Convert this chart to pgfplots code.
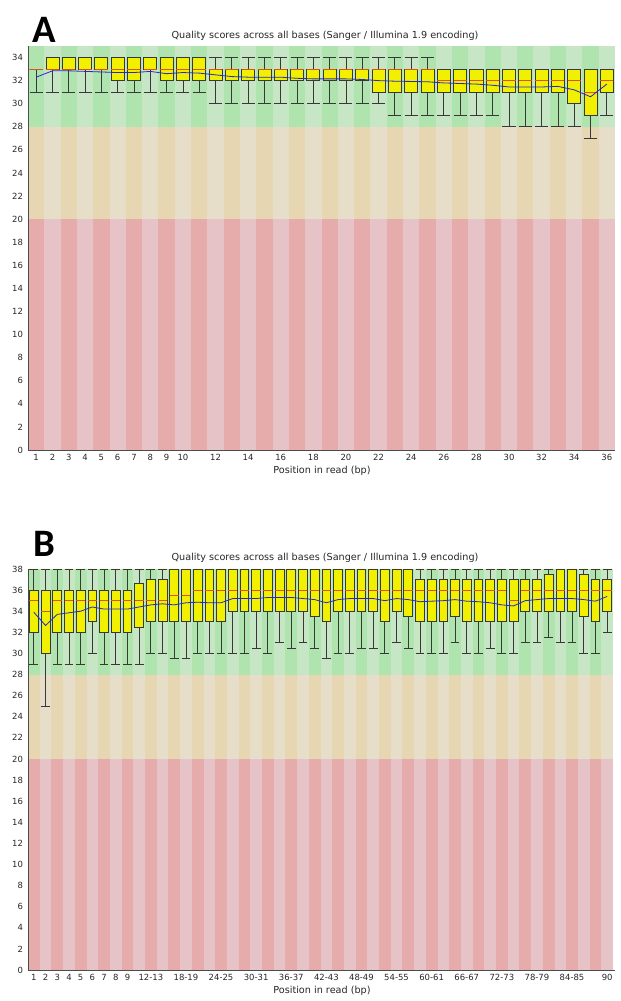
\documentclass[border=0pt]{standalone}
\usepackage{fontspec}
\setmainfont{DejaVu Sans}
\newfontfamily\labfont{Carlito}
\usepackage{pgfplots}
\pgfplotsset{compat=1.18}
\usepgfplotslibrary{statistics}
\definecolor{gd}{RGB}{175,228,175}
\definecolor{gl}{RGB}{198,230,198}
\definecolor{bd}{RGB}{230,214,178}
\definecolor{bl}{RGB}{230,222,200}
\definecolor{ud}{RGB}{230,172,172}
\definecolor{ul}{RGB}{230,195,198}
\definecolor{boxy}{RGB}{240,240,0}
\definecolor{medred}{RGB}{228,80,20}
\definecolor{meanblue}{RGB}{40,40,205}
\newcommand{\bx}[6]{\addplot[draw=black!78, fill=boxy, line width=0.8bp, solid, mark=none,
  boxplot prepared={draw direction=y, draw position=#1, lower whisker=#2, lower quartile=#3, median=#4, upper quartile=#5, upper whisker=#6}] coordinates {};}
\pgfplotsset{qa/.style={scale only axis, axis on top, clip=false,
  axis x line*=bottom, axis y line*=left,
  axis line style={black!70, line width=0.8bp},
  major tick length=0pt,
  tick label style={font=\fontsize{8.5}{10}\selectfont, text=black!85},
  /pgf/number format/assume math mode=true,
  yticklabel style={xshift=-1.5bp},
  xticklabel style={yshift=-1bp},
  boxplot/draw direction=y,
  boxplot/every median/.style={draw=medred, line width=1bp},
}}
\begin{document}
\begin{tikzpicture}
\path[use as bounding box] (0,0) rectangle (621bp,1001bp);
% ---------------- Panel A
\begin{axis}[qa, at={(28bp,551bp)}, anchor=south west, width=587bp, height=404bp,
  xmin=0.5, xmax=36.5, ymin=0, ymax=35,
  xtick={1,2,...,10,12,14,...,36}, ytick={0,2,...,34},
  boxplot/box extend=0.8, boxplot/whisker extend=0.8]
\pgfplotsinvokeforeach{1,3,...,35}{
  \fill[gd] (axis cs:{#1-0.5},28) rectangle (axis cs:{#1+0.5},35);
  \fill[bd] (axis cs:{#1-0.5},20) rectangle (axis cs:{#1+0.5},28);
  \fill[ud] (axis cs:{#1-0.5},0) rectangle (axis cs:{#1+0.5},20);
}
\pgfplotsinvokeforeach{2,4,...,36}{
  \fill[gl] (axis cs:{#1-0.5},28) rectangle (axis cs:{#1+0.5},35);
  \fill[bl] (axis cs:{#1-0.5},20) rectangle (axis cs:{#1+0.5},28);
  \fill[ul] (axis cs:{#1-0.5},0) rectangle (axis cs:{#1+0.5},20);
}
\draw[black!70, line width=0.8bp] (axis cs:36.5,0) -- ++(7bp,0);
\bx{1}{31}{33}{33}{33}{33}
\bx{2}{31}{33}{33}{34}{34}
\bx{3}{31}{33}{33}{34}{34}
\bx{4}{31}{33}{33}{34}{34}
\bx{5}{31}{33}{33}{34}{34}
\bx{6}{31}{32}{33}{34}{34}
\bx{7}{31}{32}{33}{34}{34}
\bx{8}{31}{33}{33}{34}{34}
\bx{9}{31}{32}{33}{34}{34}
\bx{10}{31}{32}{33}{34}{34}
\bx{11}{31}{32}{33}{34}{34}
\bx{12}{30}{32}{33}{33}{34}
\bx{13}{30}{32}{33}{33}{34}
\bx{14}{30}{32}{33}{33}{34}
\bx{15}{30}{32}{33}{33}{34}
\bx{16}{30}{32}{33}{33}{34}
\bx{17}{30}{32}{33}{33}{34}
\bx{18}{30}{32}{33}{33}{34}
\bx{19}{30}{32}{33}{33}{34}
\bx{20}{30}{32}{33}{33}{34}
\bx{21}{30}{32}{33}{33}{34}
\bx{22}{30}{31}{33}{33}{34}
\bx{23}{29}{31}{33}{33}{34}
\bx{24}{29}{31}{33}{33}{34}
\bx{25}{29}{31}{33}{33}{34}
\bx{26}{29}{31}{32}{33}{33}
\bx{27}{29}{31}{32}{33}{33}
\bx{28}{29}{31}{32}{33}{33}
\bx{29}{29}{31}{32}{33}{33}
\bx{30}{28}{31}{32}{33}{33}
\bx{31}{28}{31}{32}{33}{33}
\bx{32}{28}{31}{32}{33}{33}
\bx{33}{28}{31}{32}{33}{33}
\bx{34}{28}{30}{32}{33}{33}
\bx{35}{27}{29}{31}{33}{33}
\bx{36}{29}{31}{32}{33}{33}
\addplot[meanblue, line width=0.8bp, mark=none] coordinates {
(1,32.3)(2,32.85)(3,32.85)(4,32.8)(5,32.75)(6,32.7)(7,32.7)(8,32.8)(9,32.6)(10,32.7)
(11,32.65)(12,32.5)(13,32.35)(14,32.3)(15,32.3)(16,32.3)(17,32.2)(18,32.15)(19,32.15)(20,32.15)
(21,32.1)(22,32.0)(23,31.95)(24,31.93)(25,31.9)(26,31.8)(27,31.75)(28,31.7)(29,31.6)(30,31.45)
(31,31.45)(32,31.45)(33,31.5)(34,31.2)(35,30.6)(36,31.7)};
\end{axis}
% ---------------- Panel B
\begin{axis}[qa, at={(28bp,31bp)}, anchor=south west, width=585bp, height=401bp,
  xmin=0.5, xmax=50.5, ymin=0, ymax=38,
  xtick={1,2,...,9,11,14,...,47,50},
  xticklabels={1,2,3,4,5,6,7,8,9,12-13,18-19,24-25,30-31,36-37,42-43,48-49,54-55,60-61,66-67,72-73,78-79,84-85,90},
  ytick={0,2,...,38},
  boxplot/box extend=0.75, boxplot/whisker extend=0.75]
\pgfplotsinvokeforeach{1,3,...,49}{
  \fill[gd] (axis cs:{#1-0.5},28) rectangle (axis cs:{#1+0.5},38);
  \fill[bd] (axis cs:{#1-0.5},20) rectangle (axis cs:{#1+0.5},28);
  \fill[ud] (axis cs:{#1-0.5},0) rectangle (axis cs:{#1+0.5},20);
}
\pgfplotsinvokeforeach{2,4,...,50}{
  \fill[gl] (axis cs:{#1-0.5},28) rectangle (axis cs:{#1+0.5},38);
  \fill[bl] (axis cs:{#1-0.5},20) rectangle (axis cs:{#1+0.5},28);
  \fill[ul] (axis cs:{#1-0.5},0) rectangle (axis cs:{#1+0.5},20);
}
\draw[black!70, line width=0.8bp] (axis cs:50.5,0) -- ++(8bp,0);
\bx{1}{29}{32}{35}{36}{38}
\bx{2}{25}{30}{34}{36}{38}
\bx{3}{29}{32}{35}{36}{38}
\bx{4}{29}{32}{35}{36}{38}
\bx{5}{29}{32}{35}{36}{38}
\bx{6}{30}{33}{35}{36}{38}
\bx{7}{29}{32}{35}{36}{38}
\bx{8}{29}{32}{35}{36}{38}
\bx{9}{29}{32}{35}{36}{38}
\bx{10}{29}{32.5}{35}{36.6}{38}
\bx{11}{30}{33}{35}{37}{38}
\bx{12}{30}{33}{35}{37}{38}
\bx{13}{29.5}{33}{35.5}{38}{38}
\bx{14}{29.5}{33}{35.5}{38}{38}
\bx{15}{30}{33}{36}{38}{38}
\bx{16}{30}{33}{36}{38}{38}
\bx{17}{30}{33}{36}{38}{38}
\bx{18}{30}{34}{36}{38}{38}
\bx{19}{30}{34}{36}{38}{38}
\bx{20}{30.5}{34}{36}{38}{38}
\bx{21}{30}{34}{36}{38}{38}
\bx{22}{31}{34}{36}{38}{38}
\bx{23}{30.5}{34}{36}{38}{38}
\bx{24}{31}{34}{36}{38}{38}
\bx{25}{30.5}{33.5}{36}{38}{38}
\bx{26}{29.5}{33}{36}{38}{38}
\bx{27}{30}{34}{36}{38}{38}
\bx{28}{30}{34}{36}{38}{38}
\bx{29}{30.5}{34}{36}{38}{38}
\bx{30}{30.5}{34}{36}{38}{38}
\bx{31}{30}{33}{36}{38}{38}
\bx{32}{31}{34}{36}{38}{38}
\bx{33}{30.5}{33.5}{36}{38}{38}
\bx{34}{30}{33}{36}{37}{38}
\bx{35}{30}{33}{36}{37}{38}
\bx{36}{30}{33}{36}{37}{38}
\bx{37}{31}{33.5}{36}{37}{38}
\bx{38}{30}{33}{36}{37}{38}
\bx{39}{30}{33}{36}{37}{38}
\bx{40}{30.5}{33}{36}{37}{38}
\bx{41}{30}{33}{36}{37}{38}
\bx{42}{30}{33}{35}{37}{38}
\bx{43}{31}{34}{36}{37}{38}
\bx{44}{31}{34}{36}{37}{38}
\bx{45}{31.5}{34}{36}{37.5}{38}
\bx{46}{31}{34}{36}{38}{38}
\bx{47}{31}{34}{36}{38}{38}
\bx{48}{30}{33.5}{36}{37.5}{38}
\bx{49}{30}{33}{36}{37}{38}
\bx{50}{32}{34}{36}{37}{38}
\addplot[meanblue, line width=0.8bp, mark=none] coordinates {
(1,33.9)(2,32.65)(3,33.7)(4,33.85)(5,34.0)(6,34.4)(7,34.2)(8,34.2)(9,34.2)(10,34.4)
(11,34.6)(12,34.7)(13,34.6)(14,34.8)(15,34.85)(16,34.8)(17,34.8)(18,35.2)(19,35.2)(20,35.2)
(21,35.3)(22,35.3)(23,35.3)(24,35.2)(25,35.1)(26,34.8)(27,35.1)(28,35.2)(29,35.2)(30,35.2)
(31,35.0)(32,35.2)(33,35.1)(34,34.9)(35,34.95)(36,35.0)(37,35.1)(38,34.95)(39,34.9)(40,34.8)
(41,34.6)(42,34.5)(43,35.0)(44,35.1)(45,35.2)(46,35.2)(47,35.2)(48,35.1)(49,34.95)(50,35.4)};
\end{axis}
% ---------------- texts
\node[font=\labfont\bfseries\fontsize{39}{39}\selectfont, anchor=base west, inner sep=0pt] at (32bp,958bp) {A};
\node[font=\labfont\bfseries\fontsize{39}{39}\selectfont, anchor=base west, inner sep=0pt] at (33bp,444bp) {B};
\node[font=\fontsize{9.7}{11}\selectfont, text=black!85] at (325bp,965bp) {Quality scores across all bases (Sanger / Illumina 1.9 encoding)};
\node[font=\fontsize{9.7}{11}\selectfont, text=black!85] at (325bp,443bp) {Quality scores across all bases (Sanger / Illumina 1.9 encoding)};
\node[font=\fontsize{9.7}{11}\selectfont, text=black!85] at (322bp,530bp) {Position in read (bp)};
\node[font=\fontsize{9.7}{11}\selectfont, text=black!85] at (322bp,10bp) {Position in read (bp)};
\end{tikzpicture}
\end{document}
